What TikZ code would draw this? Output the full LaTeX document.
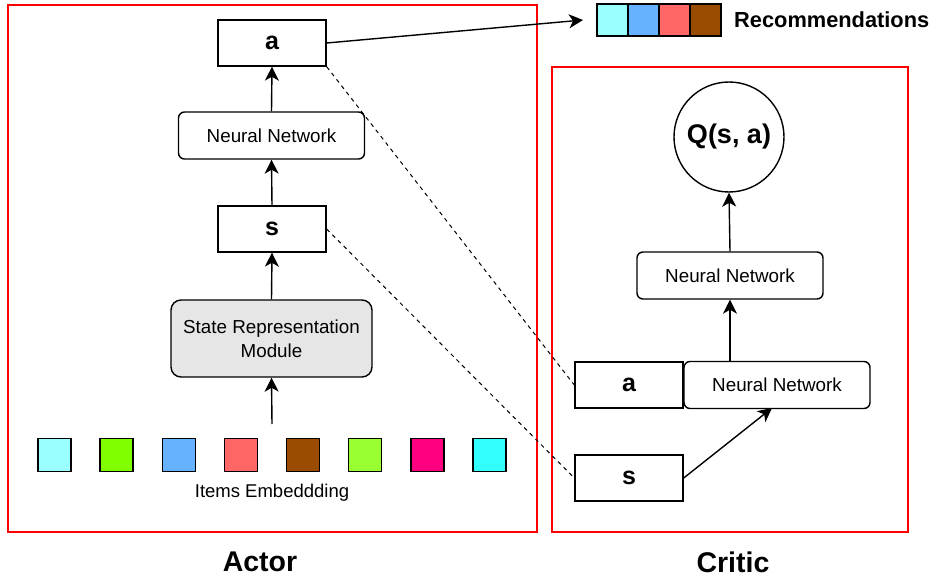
\documentclass[tikz,border=0pt]{standalone}
\usepackage{fontspec}
\setmainfont{Liberation Sans}
\usetikzlibrary{arrows.meta}
\definecolor{c1}{HTML}{99FFFF}
\definecolor{c2}{HTML}{80FF00}
\definecolor{c3}{HTML}{66B2FF}
\definecolor{c4}{HTML}{FF6666}
\definecolor{c5}{HTML}{994C00}
\definecolor{c6}{HTML}{99FF33}
\definecolor{c7}{HTML}{FF0080}
\definecolor{c8}{HTML}{33FFFF}
\definecolor{srmgray}{HTML}{E6E6E6}
\tikzset{
  panel/.style={draw=red, line width=1.2pt},
  varbox/.style={draw, line width=1.4pt, minimum width=108pt, minimum height=46pt, inner sep=0pt, font=\fontsize{25}{27}\selectfont\bfseries},
  nnbox/.style={draw, line width=1.4pt, rounded corners=6pt, minimum width=186pt, minimum height=47pt, inner sep=0pt, font=\fontsize{18.8}{21}\selectfont},
  itembox/.style={draw, line width=1.4pt, minimum width=33pt, minimum height=33pt, inner sep=0pt},
  recbox/.style={draw, line width=1.4pt, minimum width=31pt, minimum height=32pt, inner sep=0pt},
  tipshape/.tip={Stealth[length=14pt,width=14pt,inset=4pt]},
  arr/.style={line width=1.4pt, -tipshape},
  dashlink/.style={line width=1pt, dash pattern=on 4pt off 4pt},
  bigtitle/.style={font=\fontsize{28.5}{31}\selectfont\bfseries}
}
\begin{document}
\begin{tikzpicture}[x=1pt,y=-1pt]
\useasboundingbox (0,0) rectangle (930,578);
% panels
\node[panel, minimum width=529pt, minimum height=527pt, inner sep=0pt] (actorpanel) at (272.5,268.5) {};
\node[panel, minimum width=356pt, minimum height=465pt, inner sep=0pt] (criticpanel) at (730,299.5) {};
% actor
\node[varbox] (a) at (272,43) {a};
\node[nnbox] (nn) at (271.5,135.5) {Neural Network};
\node[varbox] (s) at (272,229) {s};
\node[draw, line width=1.4pt, rounded corners=10pt, fill=srmgray, minimum width=201pt, minimum height=77pt, inner sep=0pt, align=center, font=\fontsize{18.8}{24}\selectfont] (srm) at (271.5,338.5) {State Representation\\Module};
\coordinate (itemtop) at (272,424);
\draw[arr] (itemtop) -- (srm.south);
\draw[arr] (srm.north) -- (s.south);
\draw[arr] (s.north) -- (nn.south);
\draw[arr] (nn.north) -- (a.south);
% items
\foreach \c [count=\i from 0] in {c1,c2,c3,c4,c5,c6,c7,c8}{
  \node[itembox, fill=\c] (item\i) at (54.5+62.14*\i,455) {};
}
\node[font=\fontsize{18.5}{21}\selectfont] (itemlbl) at (272,493) {Items Embeddding};
% recommendations
\node[recbox, fill=c1] (r1) at (612.5,20) {};
\node[recbox, fill=c3] (r2) at (643.5,20) {};
\node[recbox, fill=c4] (r3) at (674.5,20) {};
\node[recbox, fill=c5] (r4) at (705.5,20) {};
\node[anchor=west, font=\fontsize{21.8}{24}\selectfont\bfseries, inner sep=0pt] (rec) at (734,20) {Recommendations};
\coordinate (recin) at (583,20);
\draw[arr] (a.east) -- (recin);
% critic
\node[draw, circle, line width=1.4pt, minimum size=110pt, inner sep=0pt, font=\fontsize{27}{30}\selectfont\bfseries] (q) at (729,137) {Q(s, a)};
\node[nnbox] (cnn) at (730,275.5) {Neural Network};
\node[varbox] (ca) at (629,385) {a};
\node[nnbox] (cnn2) at (777,385) {Neural Network};
\node[varbox] (cs) at (629,478) {s};
\draw[arr] (cnn.north) -- (q.south);
\draw[arr] (cnn2.north -| cnn.south) -- (cnn.south);
\coordinate (cnn2in) at (772,408);
\draw[arr] (cs.east) -- (cnn2in);
% dashed links
\draw[dashlink] (a.south east) -- (ca.west);
\draw[dashlink] (s.east) -- (cs.west);
% titles
\node[bigtitle] (actorlbl) at (260,562) {Actor};
\node[bigtitle] (criticlbl) at (733,562) {Critic};
\end{tikzpicture}
\end{document}
